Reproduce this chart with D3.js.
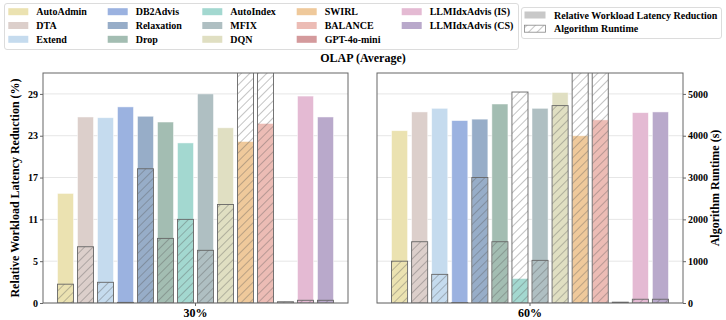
<!DOCTYPE html>
<html>
<head>
<meta charset="utf-8">
<script src="https://cdn.jsdelivr.net/npm/d3@7"></script>
<style>
body { margin: 0; background: #fff; }
text { font-family: "Liberation Serif", "Times New Roman", serif; font-weight: bold; fill: #000; }
</style>
</head>
<body>
<script>
// data
var methods = ["AutoAdmin","DTA","Extend","DB2Advis","Relaxation","Drop","AutoIndex","MFIX","DQN","SWIRL","BALANCE","GPT-4o-mini","LLMIdxAdvis (IS)","LLMIdxAdvis (CS)"];
var groups = ["30%","60%"];
var latency30 = [15.2, 25.8, 25.7, 27.2, 25.9, 25.1, 22.2, 29.0, 24.3, 22.4, 24.9, 0, 28.7, 25.8];
var runtime30 = [450, 1345, 495, 15, 3210, 1545, 2000, 1260, 2355, 12000, 12000, 30, 65, 65];
var latency60 = [23.9, 26.5, 27.0, 25.3, 25.5, 27.6, 3.4, 27.0, 29.2, 23.2, 25.4, 0, 26.4, 26.5];
var runtime60 = [1000, 1465, 685, 10, 3000, 1465, 5045, 1020, 4720, 12000, 12000, 20, 90, 90];
var leftTicks = [0, 5.8, 11.6, 17.4, 23.2, 29];
var rightTicks = [0, 1000, 2000, 3000, 4000, 5000];

var colors = ["#ebe2b1","#dccfcb","#c5dbee","#9bb2e0","#97adc8","#a3bdb2","#a3d8d0","#afbfc2",
              "#e0dfc2","#efc99b","#ecbcb5","#d49a9c","#e4bad3","#b9a9cb"];

var width = 726, height = 320;
var top_ = 73, bottom = 303;
var panels = [
	{x0: 43, x1: 348, label: groups[0], lat: latency30, run: runtime30},
	{x0: 377, x1: 683, label: groups[1], lat: latency60, run: runtime60}
];

var svg = d3.select("body").append("svg")
	.attr("width", width)
	.attr("height", height);

var defs = svg.append("defs");
var pat = defs.append("pattern")
	.attr("id", "hatch")
	.attr("patternUnits", "userSpaceOnUse")
	.attr("width", 6).attr("height", 6)
	.attr("patternTransform", "rotate(45)");
pat.append("line")
	.attr("x1", 0).attr("y1", 0).attr("x2", 0).attr("y2", 6)
	.attr("stroke", "#555").attr("stroke-width", 0.7);

var yL = d3.scaleLinear().domain([0, 29 * 1.1]).range([bottom, top_]);
var yR = d3.scaleLinear().domain([0, 5000 * 1.1]).range([bottom, top_]);

panels.forEach(function(p, pi){
	var x = d3.scaleBand()
		.domain(methods)
		.range([p.x0, p.x1])
		.paddingInner(0.2)
		.paddingOuter(0.725);

	var g = svg.append("g");
	var clipId = "clip" + pi;
	defs.append("clipPath").attr("id", clipId)
		.append("rect")
		.attr("x", p.x0).attr("y", top_)
		.attr("width", p.x1 - p.x0).attr("height", bottom - top_);

	// grid
	g.selectAll(".grid")
		.data(leftTicks)
		.enter().append("line")
		.attr("x1", p.x0).attr("x2", p.x1)
		.attr("y1", function(d){ return yL(d); })
		.attr("y2", function(d){ return yL(d); })
		.attr("stroke", "#e6e6e6").attr("stroke-width", 1);

	var bars = g.append("g").attr("clip-path", "url(#" + clipId + ")");

	// white background for runtime bars
	bars.selectAll(".rbg")
		.data(p.run)
		.enter().append("rect")
		.attr("x", function(d, i){ return x(methods[i]); })
		.attr("width", x.bandwidth())
		.attr("y", function(d){ return yR(d); })
		.attr("height", function(d){ return bottom - yR(d); })
		.attr("fill", "#fff");

	// latency bars
	bars.selectAll(".lat")
		.data(p.lat)
		.enter().append("rect")
		.attr("x", function(d, i){ return x(methods[i]); })
		.attr("width", x.bandwidth())
		.attr("y", function(d){ return yL(d); })
		.attr("height", function(d){ return bottom - yL(d); })
		.attr("fill", function(d, i){ return colors[i]; })
		.attr("stroke", "#fff").attr("stroke-opacity", 0.6).attr("stroke-width", 0.8);

	// runtime bars (hatched)
	bars.selectAll(".run")
		.data(p.run)
		.enter().append("rect")
		.attr("x", function(d, i){ return x(methods[i]); })
		.attr("width", x.bandwidth())
		.attr("y", function(d){ return yR(d); })
		.attr("height", function(d){ return bottom - yR(d); })
		.attr("fill", "url(#hatch)")
		.attr("stroke", "#666").attr("stroke-width", 0.9);

	// frame
	g.append("rect")
		.attr("x", p.x0).attr("y", top_)
		.attr("width", p.x1 - p.x0).attr("height", bottom - top_)
		.attr("fill", "none").attr("stroke", "#666").attr("stroke-width", 1);

	// x label
	g.append("line")
		.attr("x1", (p.x0 + p.x1) / 2).attr("x2", (p.x0 + p.x1) / 2)
		.attr("y1", bottom).attr("y2", bottom + 3)
		.attr("stroke", "#666");
	g.append("text")
		.attr("x", (p.x0 + p.x1) / 2).attr("y", bottom + 13.5)
		.attr("text-anchor", "middle")
		.style("font-size", "12px")
		.text(p.label);
});

// left axis
var axL = d3.axisLeft(yL).tickValues(leftTicks).tickSize(3).tickPadding(2)
	.tickFormat(function(d){ return Math.floor(d); });
var gL = svg.append("g").attr("transform", "translate(43,0)").call(axL);
// right axis
var axR = d3.axisRight(yR).tickValues(rightTicks).tickSize(3).tickPadding(2)
	.tickFormat(d3.format("d"));
var gR = svg.append("g").attr("transform", "translate(683,0)").call(axR);
[gL, gR].forEach(function(a){
	a.attr("font-family", null);
	a.select(".domain").remove();
	a.selectAll(".tick line").attr("stroke", "#666");
	a.selectAll(".tick text")
		.style("font-family", "'Liberation Serif', serif")
		.style("font-weight", "bold")
		.style("font-size", "10px");
});

// axis titles
svg.append("text")
	.attr("transform", "translate(19," + (top_ + bottom) / 2 + ") rotate(-90)")
	.attr("text-anchor", "middle")
	.style("font-size", "12px")
	.text("Relative Workload Latency Reduction (%)");
svg.append("text")
	.attr("transform", "translate(719," + (top_ + bottom) / 2 + ") rotate(-90)")
	.attr("text-anchor", "middle")
	.style("font-size", "12px")
	.text("Algorithm Runtime (s)");
svg.append("text")
	.attr("x", 363).attr("y", 62)
	.attr("text-anchor", "middle")
	.style("font-size", "12px")
	.text("OLAP (Average)");

// method legend
var colX = [8.3, 107.7, 202.3, 296.7, 401.7];
var rowY = [11.7, 25.5, 39.3];
svg.append("rect")
	.attr("x", 4.5).attr("y", 3.5).attr("width", 514).attr("height", 46)
	.attr("rx", 2.5)
	.attr("fill", "#fff").attr("stroke", "#dcdcdc");
var leg = svg.selectAll(".leg")
	.data(methods)
	.enter().append("g")
	.attr("transform", function(d, i){ return "translate(" + colX[Math.floor(i / 3)] + "," + rowY[i % 3] + ")"; });
leg.append("rect")
	.attr("x", 0).attr("y", -3.5).attr("width", 20).attr("height", 7)
	.attr("fill", function(d, i){ return colors[i]; });
leg.append("text")
	.attr("x", 28).attr("y", 3.5)
	.style("font-size", "10px")
	.text(function(d){ return d; });

// type legend
svg.append("rect")
	.attr("x", 521.5).attr("y", 7.5).attr("width", 200).attr("height", 31)
	.attr("rx", 2.5)
	.attr("fill", "#fff").attr("stroke", "#dcdcdc");
svg.append("rect")
	.attr("x", 524.5).attr("y", 11.5).attr("width", 21).attr("height", 7)
	.attr("fill", "#c8c8c8");
svg.append("rect")
	.attr("x", 524.5).attr("y", 25.2).attr("width", 21).attr("height", 7)
	.attr("fill", "url(#hatch)").attr("stroke", "#888").attr("stroke-width", 0.8);
svg.append("text")
	.attr("x", 554).attr("y", 18.5)
	.style("font-size", "10px")
	.text("Relative Workload Latency Reduction");
svg.append("text")
	.attr("x", 554).attr("y", 32.2)
	.style("font-size", "10px")
	.text("Algorithm Runtime");
</script>
</body>
</html>
